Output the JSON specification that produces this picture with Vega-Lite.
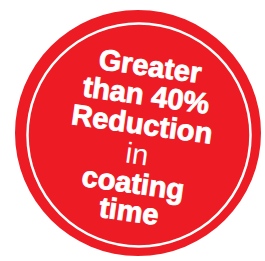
{
  "$schema": "https://vega.github.io/schema/vega-lite/v6.json",
  "width": 265,
  "height": 261,
  "padding": 0,
  "autosize": {"type": "none"},
  "background": "white",
  "config": {"view": {"stroke": null}},
  "encoding": {
    "x": {"field": "x", "type": "quantitative", "scale": {"domain": [0, 265]}, "axis": null},
    "y": {"field": "y", "type": "quantitative", "scale": {"domain": [0, 261], "reverse": true}, "axis": null}
  },
  "layer": [
    {
      "data": {"values": [{"x": 138, "y": 133, "d": 246}]},
      "mark": {"type": "point", "shape": "circle", "filled": true, "color": "#ED1C24", "opacity": 1, "size": 60516}
    },
    {
      "data": {"values": [{"x": 139, "y": 135, "d": 223}]},
      "mark": {"type": "point", "shape": "circle", "filled": false, "color": "white", "strokeWidth": 2.5, "opacity": 1, "size": 49729}
    },
    {
      "data": {"values": [
        {"label": "Greater", "x": 150, "y": 67},
        {"label": "than 40%", "x": 146, "y": 96},
        {"label": "Reduction", "x": 142, "y": 125},
        {"label": "coating", "x": 133, "y": 184},
        {"label": "time", "x": 129, "y": 212}
      ]},
      "mark": {"type": "text", "font": "Liberation Sans", "fontWeight": "bold", "fontSize": 29, "color": "white", "stroke": "white", "strokeWidth": 0.9, "angle": 8, "align": "center", "baseline": "middle"},
      "encoding": {"text": {"field": "label"}}
    },
    {
      "data": {"values": [{"label": "in", "x": 137, "y": 155}]},
      "mark": {"type": "text", "font": "Liberation Sans", "fontWeight": "normal", "fontSize": 29, "color": "white", "angle": 8, "align": "center", "baseline": "middle"},
      "encoding": {"text": {"field": "label"}}
    }
  ]
}
